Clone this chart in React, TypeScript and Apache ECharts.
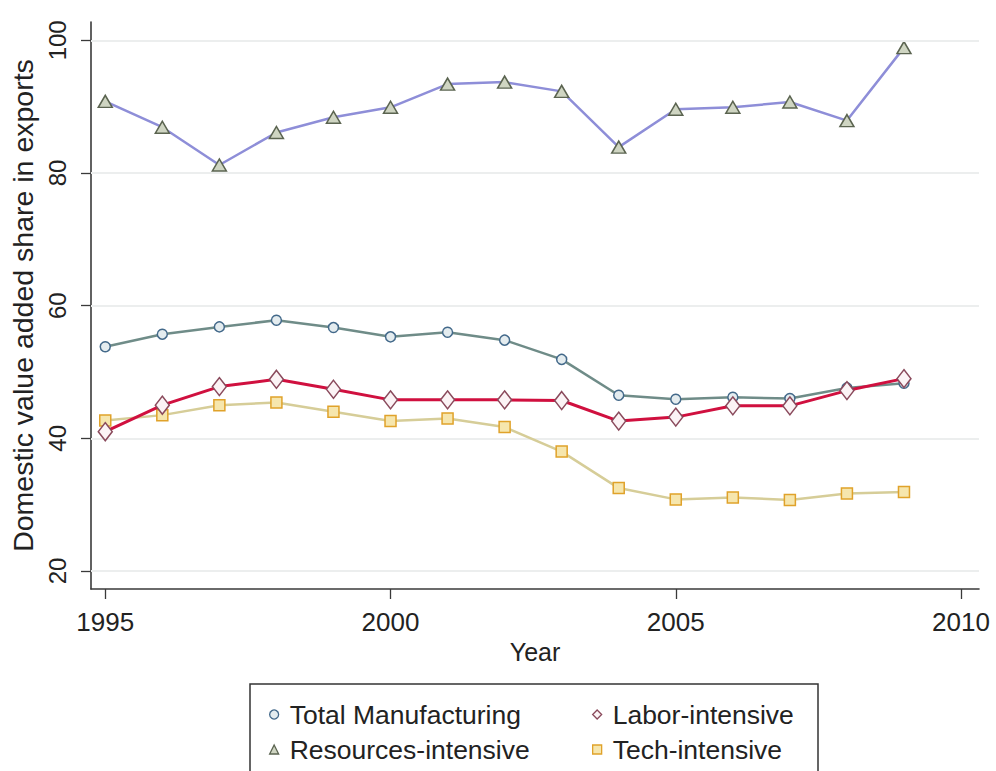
import React, { useEffect, useRef } from "react";
import * as echarts from "echarts";

// Domestic value added share in exports, by sector group
const years = [1995, 1996, 1997, 1998, 1999, 2000, 2001, 2002, 2003, 2004, 2005, 2006, 2007, 2008, 2009];
const totalMfg = [53.8, 55.7, 56.8, 57.8, 56.7, 55.3, 56.0, 54.8, 51.9, 46.5, 45.9, 46.2, 46.0, 47.6, 48.3];
const resources = [90.8, 86.9, 81.2, 86.1, 88.4, 89.9, 93.4, 93.7, 92.3, 83.9, 89.6, 89.9, 90.7, 87.9, 98.9];
const labor = [41.0, 45.0, 47.8, 48.9, 47.4, 45.8, 45.8, 45.8, 45.7, 42.6, 43.2, 44.9, 44.9, 47.2, 49.0];
const tech = [42.7, 43.5, 45.0, 45.4, 44.0, 42.6, 43.0, 41.7, 38.0, 32.5, 30.8, 31.1, 30.7, 31.7, 31.9];

const yTicks = [20, 40, 60, 80, 100];
const xTicks = [1995, 2000, 2005, 2010];

const FONT = "'Liberation Sans', Arial, sans-serif";
const TEXT = "#222";
const AXIS = "#3a3a3a";

type Style = {
  symbol: string;
  size: number | number[];
  line: string;
  width: number;
  fill: string;
  border: string;
  z: number;
};

const styles: Record<string, Style> = {
  "Total Manufacturing": { symbol: "circle", size: 10, line: "#6f8c88", width: 2.5, fill: "#e4ecef", border: "#43698a", z: 3 },
  "Resources-intensive": { symbol: "triangle", size: [14, 12], line: "#8e8ed8", width: 2.5, fill: "#cfd5c2", border: "#5b6450", z: 4 },
  "Labor-intensive": { symbol: "diamond", size: [14, 18], line: "#d0103f", width: 3, fill: "#fbf3f5", border: "#8a4a5c", z: 6 },
  "Tech-intensive": { symbol: "rect", size: 11, line: "#d6cd98", width: 2.5, fill: "#f6e6ad", border: "#e0a22a", z: 5 },
};

const seriesValues: [string, number[]][] = [
  ["Total Manufacturing", totalMfg],
  ["Resources-intensive", resources],
  ["Tech-intensive", tech],
  ["Labor-intensive", labor],
];

function legendItem(name: string) {
  const s = styles[name];
  return {
    name,
    icon: s.symbol,
    itemStyle: { color: s.fill, borderColor: s.border, borderWidth: 1.3 },
  };
}

export default function App() {
  const ref = useRef<HTMLDivElement>(null);

  useEffect(() => {
    const chart = echarts.init(ref.current!, null, { renderer: "svg" });

    const lineSeries = seriesValues.map(([name, values]) => {
      const s = styles[name];
      return {
        name,
        type: "line",
        data: years.map((y, i) => [y, values[i]]),
        symbol: s.symbol,
        symbolSize: s.size,
        showSymbol: true,
        z: s.z,
        lineStyle: { color: s.line, width: s.width },
        itemStyle: { color: s.fill, borderColor: s.border, borderWidth: 1.5 },
        emphasis: { disabled: true },
      };
    });

    const legendBase = {
      orient: "vertical",
      top: 696,
      itemGap: 8,
      itemWidth: 9,
      itemHeight: 9,
      selectedMode: false,
      textStyle: { fontFamily: FONT, fontSize: 26.5, color: TEXT, padding: [0, 0, 0, 6] },
    };

    chart.setOption({
      animation: false,
      backgroundColor: "#ffffff",
      grid: { left: 91, right: 17, top: 22, bottom: 182 },
      xAxis: {
        type: "value",
        min: 1994.75,
        max: 2010.315,
        name: "Year",
        nameLocation: "middle",
        nameGap: 50,
        nameTextStyle: { fontFamily: FONT, fontSize: 25, color: TEXT },
        axisLine: { lineStyle: { color: AXIS, width: 1.6 } },
        axisTick: { customValues: xTicks, length: 10, lineStyle: { color: AXIS, width: 1.3 } },
        axisLabel: {
          customValues: xTicks,
          formatter: (v: number) => String(v),
          fontFamily: FONT,
          fontSize: 26,
          color: TEXT,
          margin: 20,
        },
        splitLine: { show: false },
      },
      yAxis: {
        type: "value",
        min: 17.29,
        max: 102.76,
        name: "Domestic value added share in exports",
        nameLocation: "middle",
        nameGap: 50,
        nameTextStyle: { fontFamily: FONT, fontSize: 28.5, color: TEXT },
        axisLine: { show: true, lineStyle: { color: AXIS, width: 1.6 } },
        axisTick: { show: true, customValues: yTicks, length: 10, lineStyle: { color: AXIS, width: 1.3 } },
        axisLabel: {
          customValues: yTicks,
          formatter: (v: number) => String(v),
          rotate: 90,
          fontFamily: FONT,
          fontSize: 24,
          color: TEXT,
          margin: 22,
        },
        splitLine: { show: false },
      },
      legend: [
        { ...legendBase, left: 264, data: [legendItem("Total Manufacturing"), legendItem("Resources-intensive")] },
        { ...legendBase, left: 587, data: [legendItem("Labor-intensive"), legendItem("Tech-intensive")] },
      ],
      graphic: [
        {
          type: "rect",
          shape: { x: 250, y: 684, width: 568, height: 100 },
          style: { fill: "none", stroke: "#333", lineWidth: 1.5 },
          silent: true,
        },
      ],
      series: [
        {
          name: "grid",
          type: "line",
          data: [],
          z: 1,
          markLine: {
            silent: true,
            symbol: "none",
            label: { show: false },
            lineStyle: { color: "#eceeee", width: 2, type: "solid" },
            data: yTicks.map((v) => ({ yAxis: v })),
          },
        },
        ...lineSeries,
      ],
    });

    return () => chart.dispose();
  }, []);

  return (
    <div
      ref={ref}
      style={{ position: "fixed", left: 0, top: 0, width: 996, height: 771, background: "#fff" }}
    />
  );
}
